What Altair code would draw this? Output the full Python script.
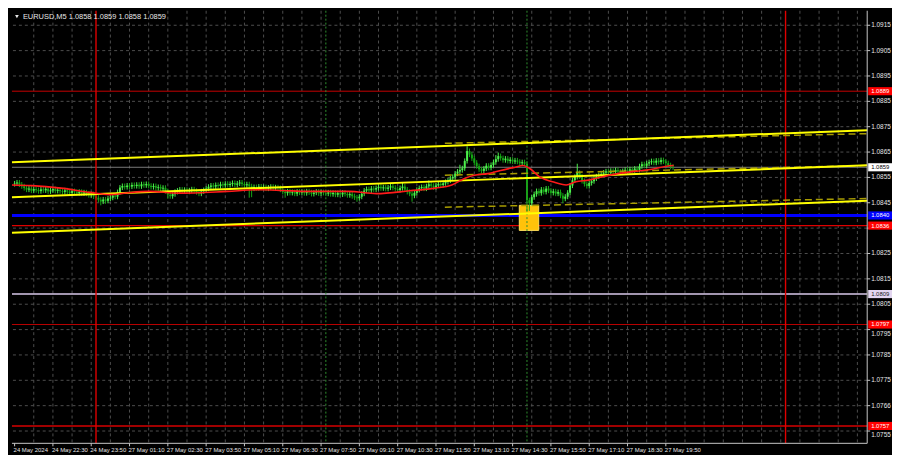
import altair as alt
import pandas as pd

W, H = 862, 436
BASE = 1.08
PIP = 0.0001
FONT = "Liberation Sans"

title_text = "EURUSD,M5  1.0858 1.0859 1.0858 1.0859"

# bottom axis labels (bar index -> text)
x_label_bars = [0, 16, 32, 48, 64, 80, 96, 112, 128, 144, 160, 176, 192, 208, 224, 240, 256, 272]
x_label_texts = ["24 May 2024", "24 May 22:30", "24 May 23:50", "27 May 01:10", "27 May 02:30",
                 "27 May 03:50", "27 May 05:10", "27 May 06:30", "27 May 07:50", "27 May 09:10",
                 "27 May 10:30", "27 May 11:50", "27 May 13:10", "27 May 14:30", "27 May 15:50",
                 "27 May 17:10", "27 May 18:30", "27 May 19:50"]
grid_bars = list(range(8, 356, 8))

# right price scale (grid at every tick; 1.0835's label is hidden under a level box)
price_ticks = [1.0915, 1.0905, 1.0895, 1.0885, 1.0875, 1.0865, 1.0855, 1.0845, 1.0835,
               1.0825, 1.0815, 1.0805, 1.0795, 1.0785, 1.0775, 1.0765, 1.0755]
label_ticks = [1.0915, 1.0905, 1.0895, 1.0885, 1.0875, 1.0865, 1.0855, 1.0845,
               1.0825, 1.0815, 1.0805, 1.0795, 1.0785, 1.0775, 1.0765, 1.0755]
label_tick_texts = ["1.0915", "1.0905", "1.0895", "1.0885", "1.0875", "1.0865", "1.0855", "1.0845",
                    "1.0825", "1.0815", "1.0805", "1.0795", "1.0785", "1.0775", "1.0766", "1.0755"]
# tick labels that sit just under a level label box
low_tick_texts = ["1.0795", "1.0755"]

# M5 candles: close prices in pips above 1.0800
first_open = 52.4
closes = [
    52.6, 53.0, 52.2, 51.5, 50.8, 50.2, 50.6, 49.8, 50.4, 50.0,
    49.6, 50.3, 49.9, 50.5, 49.5, 49.9, 50.4, 49.7, 50.1, 49.6,
    49.3, 49.9, 49.4, 48.9, 49.6, 49.2, 48.8, 49.3, 48.7, 49.1,
    48.6, 48.0, 48.4, 47.5, 47.0, 46.2, 45.5, 46.3, 45.8, 46.7,
    47.0, 47.8, 47.4, 49.2, 51.0, 51.6, 51.2, 51.8, 51.4, 52.0,
    51.6, 52.1, 51.5, 52.3, 51.9, 52.4, 51.7, 51.2, 51.6, 50.9,
    51.2, 50.6, 50.9, 49.6, 48.2, 47.6, 48.4, 49.3, 49.8, 50.2,
    49.6, 50.1, 49.4, 49.9, 50.3, 49.7, 49.2, 48.6, 49.5, 50.0,
    50.6, 51.3, 51.8, 51.4, 52.0, 51.6, 52.3, 51.9, 52.5, 52.0,
    52.4, 52.8, 52.1, 52.6, 53.0, 52.4, 51.9, 52.3, 51.5, 50.6,
    51.2, 50.8, 51.4, 50.9, 51.2, 50.6, 51.0, 51.3, 50.7, 51.1,
    50.8, 50.2, 49.3, 48.8, 49.5, 48.9, 49.2, 48.6, 49.4, 49.0,
    49.3, 48.8, 49.5, 49.1, 48.5, 49.0, 49.4, 48.7, 49.2, 48.9,
    48.6, 49.1, 48.4, 48.9, 48.2, 48.8, 48.3, 49.0, 48.5, 48.0,
    48.4, 47.6, 47.1, 46.8, 47.4, 48.6, 49.8, 50.4, 49.9, 50.6,
    50.2, 50.8, 51.3, 50.7, 51.1, 50.5, 51.0, 51.5, 50.9, 50.4,
    50.0, 50.8, 51.4, 50.2, 49.3, 48.6, 47.8, 48.9, 50.1, 50.8,
    51.2, 50.6, 51.5, 52.3, 51.7, 51.1, 51.8, 52.4, 52.0, 52.7,
    53.2, 53.8, 54.6, 55.2, 56.5, 57.3, 57.9, 58.6, 61.5, 65.4,
    64.0, 62.5, 60.8, 59.4, 58.2, 57.6, 58.5, 59.6, 58.8, 59.9,
    61.0, 62.2, 63.4, 62.6, 61.8, 62.4, 61.5, 62.0, 61.3, 61.7,
    61.2, 60.6, 61.0, 60.4, 46.0, 44.8,
    47.2, 48.4, 49.6, 48.8, 50.2, 49.3, 50.6, 49.8, 48.9, 49.5,
    48.6, 49.2, 47.8, 46.6, 47.4, 49.0, 51.8, 53.9, 55.2, 56.8,
    55.4, 53.6, 52.4, 51.6, 52.8, 53.5, 54.6, 55.4, 55.9, 56.4,
    56.9, 57.4, 56.8, 57.6, 57.1, 57.9, 57.3, 56.9, 57.5, 58.0,
    57.6, 58.2, 57.8, 58.5, 58.0, 59.4, 60.2, 59.6, 60.5, 61.0,
    61.4, 60.8, 61.6, 61.1, 61.8, 61.3, 60.6, 59.8, 59.2, 58.9,
]
wick_pips = 1.0
spike_high_bars = [189, 190, 202, 235, 162, 173, 201, 186]
spike_highs = [67.3, 65.5, 64.8, 60.4, 53.2, 53.8, 63.8, 60.0]
spike_low_bars = [36, 98, 99, 166, 214, 215, 229, 113, 143, 64, 38]
spike_lows = [44.0, 47.0, 47.2, 45.4, 41.5, 41.8, 44.8, 47.0, 45.4, 46.6, 44.6]

# red moving average (bar index, pips)
ma_bars = [-1.1, 7.1, 19.3, 31.6, 39.7, 46.7, 56.1, 68.3, 88.7, 102.2, 112.0, 122.6, 139.7,
           151.2, 165.0, 175.7, 182.6, 187.9, 192.0, 197.7, 203.0, 209.1, 212.4, 215.3, 219.3,
           224.7, 230.4, 234.4, 239.8, 245.1, 252.0, 258.9, 265.5, 272.4, 275.3]
ma_pips = [52.03, 51.76, 50.77, 49.10, 48.22, 48.87, 49.48, 48.79, 49.48, 50.13, 49.86, 49.48, 49.48,
           48.60, 49.74, 50.77, 52.03, 54.59, 55.85, 56.50, 57.76, 59.02, 59.67, 58.41, 55.20,
           53.29, 52.03, 53.29, 53.94, 55.20, 56.50, 57.38, 58.14, 59.40, 59.67]

# regression channel (yellow)
chan_bars = [-1.1, 356.1]
chan_upper = [61.0, 73.6]
chan_mid = [47.19, 59.78]
chan_lower = [33.22, 45.81]
dash_bars = [179.7, 356.1]
dash_upper = [68.44, 72.26]
dash_mid = [55.85, 59.67]
dash_lower = [43.26, 46.69]

# signal box
box_bars = [210.8, 218.9]
box_pips = [34.1, 44.0]

# horizontal levels (drawn in this order)
level_prices = [1.0809, 1.0797, 1.0757, 1.0889, 1.0836, 1.0859, 1.0840]
level_texts = ["1.0809", "1.0797", "1.0757", "1.0889", "1.0836", "1.0859", "1.0840"]
level_line_colors = ["#d9c9ea", "#b80000", "#a00000", "#c80000", "#e00000", "#7a7a7a", "#0000ff"]
level_line_widths = [1.5, 1, 2, 1, 1.2, 1, 3]
level_box_colors = ["#e3d6f0", "#ff0000", "#ff0000", "#ff0000", "#ff0000", "#ffffff", "#0000ff"]
level_text_colors = ["#202020", "#ffffff", "#ffffff", "#ffffff", "#ffffff", "#000000", "#ffffff"]

day_sep_bars = [34, 322]
session_bars = [130, 214]

# ---------------------------------------------------------------------------
xs = alt.Scale(domain=[-1.1, 356.1], nice=False, zero=False)
ys = alt.Scale(domain=[1.075015, 1.092072], nice=False, zero=False)


def X(f):
    return alt.X(f, type="quantitative", scale=xs, axis=None)


def Y(f):
    return alt.Y(f, type="quantitative", scale=ys, axis=None)


opens = [first_open] + closes[:-1]
highs = [max(o, c) + wick_pips for o, c in zip(opens, closes)]
lows = [min(o, c) - wick_pips for o, c in zip(opens, closes)]
for b, v in zip(spike_high_bars, spike_highs):
    highs[b] = max(highs[b], v)
for b, v in zip(spike_low_bars, spike_lows):
    lows[b] = min(lows[b], v)
cdf = pd.DataFrame({
    "bar": list(range(len(closes))),
    "o": [BASE + v * PIP for v in opens],
    "c": [BASE + v * PIP for v in closes],
    "h": [BASE + v * PIP for v in highs],
    "l": [BASE + v * PIP for v in lows],
})
candle_color = alt.condition("datum.c >= datum.o", alt.value("#4cf04c"), alt.value("#14a814"))

grid_h = alt.Chart(pd.DataFrame({"p": price_ticks})).mark_rule(
    color="#4e4e4e", strokeDash=[3, 3], strokeWidth=1).encode(y=Y("p"))
grid_v = alt.Chart(pd.DataFrame({"b": grid_bars})).mark_rule(
    color="#4e4e4e", strokeDash=[3, 3], strokeWidth=1).encode(x=X("b"))

ldf = pd.DataFrame({"p": level_prices, "t": level_texts, "lc": level_line_colors,
                    "lw": level_line_widths, "bc": level_box_colors, "tc": level_text_colors,
                    "order": list(range(len(level_prices)))})
levels = alt.Chart(ldf).mark_rule().encode(
    y=Y("p"),
    color=alt.Color("lc:N", scale=None),
    strokeWidth=alt.StrokeWidth("lw:Q", scale=None),
    order="order:Q",
)

box = alt.Chart(pd.DataFrame({"b1": [box_bars[0]], "b2": [box_bars[1]],
                              "p1": [BASE + box_pips[0] * PIP], "p2": [BASE + box_pips[1] * PIP]})
                ).mark_rect(fill="#ffc20a", stroke="#ffdf5a", strokeWidth=1).encode(
    x=X("b1"), x2="b2", y=Y("p1"), y2="p2")

wicks = alt.Chart(cdf).mark_rule(strokeWidth=1).encode(
    x=X("bar"), y=Y("l"), y2="h", color=candle_color)
bodies = alt.Chart(cdf).mark_rule(strokeWidth=2).encode(
    x=X("bar"), y=Y("o"), y2="c", color=candle_color)

vsep = alt.Chart(pd.DataFrame({"b": day_sep_bars})).mark_rule(
    color="#e00000", strokeWidth=1.4).encode(x=X("b"))
vsess = alt.Chart(pd.DataFrame({"b": session_bars})).mark_rule(
    color="#2f8f2f", strokeDash=[2, 2], strokeWidth=1).encode(x=X("b"))


def seg_df(bars, pips, name):
    return pd.DataFrame({"b": bars, "p": [BASE + v * PIP for v in pips], "s": [name] * len(bars)})


dashed = pd.concat([seg_df(dash_bars, dash_upper, "u"), seg_df(dash_bars, dash_mid, "m"),
                    seg_df(dash_bars, dash_lower, "l")])
dash_lines = alt.Chart(dashed).mark_line(color="#a89c00", strokeDash=[7, 4], strokeWidth=1.5).encode(
    x=X("b"), y=Y("p"), detail="s:N")
chan = pd.concat([seg_df(chan_bars, chan_upper, "u"), seg_df(chan_bars, chan_mid, "m"),
                  seg_df(chan_bars, chan_lower, "l")])
chan_lines = alt.Chart(chan).mark_line(color="#ffff00", strokeWidth=2).encode(
    x=X("b"), y=Y("p"), detail="s:N")

ma = alt.Chart(seg_df(ma_bars, ma_pips, "ma")).mark_line(
    color="#ff1a1a", strokeWidth=1.6, interpolate="monotone").encode(x=X("b"), y=Y("p"))

border_r = alt.Chart(pd.DataFrame({"a": [0]})).mark_rule(color="#c8c8c8", strokeWidth=1).encode(
    x=alt.value(W), y=alt.value(0), y2=alt.value(H))
border_b = alt.Chart(pd.DataFrame({"a": [0]})).mark_rule(color="#c8c8c8", strokeWidth=1).encode(
    x=alt.value(0), x2=alt.value(W), y=alt.value(H))

ptick = alt.Chart(pd.DataFrame({"p": price_ticks})).mark_rule(color="#c8c8c8").encode(
    y=Y("p"), x=alt.value(W), x2=alt.value(W + 3))
pdf = pd.DataFrame({"p": label_ticks, "t": label_tick_texts})
plabel = alt.Chart(pdf).transform_filter(
    alt.FieldOneOfPredicate(field="t", oneOf=low_tick_texts)).mark_text(
    align="left", baseline="top", font=FONT, fontSize=6.5, color="#e6e6e6", dy=1).encode(
    y=Y("p"), x=alt.value(W + 4), text="t:N")
plabel2 = alt.Chart(pdf).transform_filter(
    {"not": alt.FieldOneOfPredicate(field="t", oneOf=low_tick_texts)}).mark_text(
    align="left", baseline="middle", font=FONT, fontSize=6.5, color="#e6e6e6").encode(
    y=Y("p"), x=alt.value(W + 4), text="t:N")

lbox = alt.Chart(ldf).transform_calculate(
    lo="datum.p - 0.00016", hi="datum.p + 0.00016").mark_rect().encode(
    y=Y("lo:Q"), y2="hi:Q", x=alt.value(W + 1), x2=alt.value(W + 25),
    fill=alt.Fill("bc:N", scale=None))
ltext = alt.Chart(ldf).mark_text(align="left", baseline="middle", font=FONT, fontSize=6).encode(
    y=Y("p"), x=alt.value(W + 4), text="t:N", color=alt.Color("tc:N", scale=None))

xdf = pd.DataFrame({"b": x_label_bars, "t": x_label_texts})
xtick = alt.Chart(xdf).mark_rule(color="#c8c8c8").encode(
    x=X("b"), y=alt.value(H), y2=alt.value(H + 3))
xlabel = alt.Chart(xdf).mark_text(align="left", baseline="middle", font=FONT, fontSize=6,
                                  color="#e6e6e6", dx=-1).encode(x=X("b"), y=alt.value(H + 7), text="t:N")

tri = alt.Chart(pd.DataFrame({"a": [0]})).mark_point(
    shape="triangle-down", filled=True, size=14, color="#e6e6e6", opacity=1).encode(
    x=alt.value(5), y=alt.value(6))
title = alt.Chart(pd.DataFrame({"t": [title_text]})).mark_text(
    align="left", baseline="middle", font=FONT, fontSize=7.5, color="#e6e6e6").encode(
    x=alt.value(11), y=alt.value(6), text="t:N")

chart = alt.layer(
    grid_h, grid_v, levels, box, wicks, bodies, vsep, vsess, dash_lines, chan_lines, ma,
    border_r, border_b, ptick, plabel, plabel2, lbox, ltext, xtick, xlabel, tri, title,
).properties(
    width=W, height=H, padding={"left": 0, "top": 0, "right": 0, "bottom": 0}
).configure(background="#000000").configure_view(strokeWidth=0)

chart.save("out.html", embed_options={"renderer": "svg", "actions": False})
